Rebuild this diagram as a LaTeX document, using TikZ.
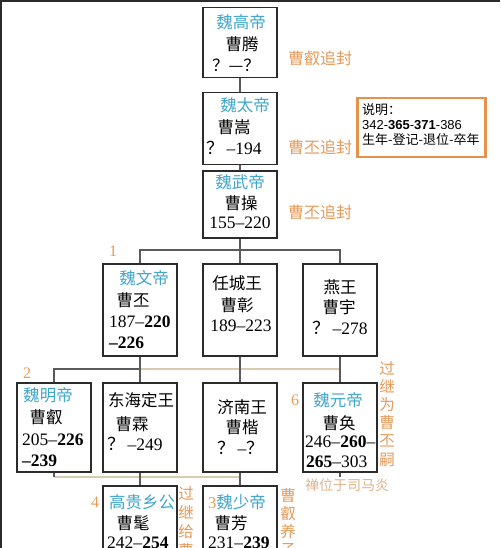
\documentclass[tikz,border=0pt]{standalone}
\usepackage{fontspec}
\setmainfont{Liberation Serif}
\newfontfamily\cjk{Noto Sans CJK SC}
\newfontfamily\lsans{Liberation Sans}
\definecolor{boxc}{HTML}{2B2B2B}
\definecolor{linec}{HTML}{5A5A5A}
\definecolor{beige}{HTML}{D9CBB0}
\definecolor{cyanc}{HTML}{3FA6CB}
\definecolor{orangec}{HTML}{E59A5A}
\definecolor{tanc}{HTML}{DDB48C}
\definecolor{legendc}{HTML}{E8914A}
\tikzset{
  famebox/.style={draw=boxc, line width=1.5pt, minimum width=74pt, inner sep=0pt, anchor=north},
  conn/.style={draw=linec, line width=1.2pt},
  adopt/.style={draw=beige, line width=1.2pt},
  tname/.style={inner sep=0pt, font=\cjk\fontsize{16.5}{18}\selectfont, text=black},
  tcyan/.style={inner sep=0pt, font=\cjk\fontsize{16.5}{18}\selectfont, text=cyanc},
  tnum/.style={inner sep=0pt, font=\fontsize{17.5}{19}\selectfont, text=black},
  tlab/.style={inner sep=0pt, font=\cjk\fontsize{16}{18}\selectfont, text=orangec},
  tidx/.style={inner sep=0pt, font=\fontsize{16}{18}\selectfont, text=orangec},
  tvert/.style={inner sep=0pt, font=\cjk\fontsize{15.5}{18.2}\selectfont, text=orangec, align=center, anchor=north},
  tleg/.style={inner sep=0pt, font=\fontsize{13}{15}\selectfont, text=black, anchor=west},
}
\begin{document}
\begin{tikzpicture}[x=1pt,y=-1pt]
\useasboundingbox (0,0) rectangle (500,548);
\clip (0,0) rectangle (500,548);
\fill[white] (0,0) rectangle (500,548);
\draw[boxc, line width=2.5pt] (1,548) -- (1,1) -- (500,1);

% boxes
\node[famebox, minimum height=70pt] (gao) at (240,7) {};
\node[famebox, minimum height=72pt] (tai) at (240,92) {};
\node[famebox, minimum height=67pt] (wu) at (240,170) {};
\node[famebox, minimum height=92pt] (wen) at (140,263) {};
\node[famebox, minimum height=92pt] (ren) at (240,263) {};
\node[famebox, minimum height=92pt] (yan) at (340,263) {};
\node[famebox, minimum height=89pt] (ming) at (54,382) {};
\node[famebox, minimum height=89pt] (donghai) at (140,382) {};
\node[famebox, minimum height=89pt] (jinan) at (240,382) {};
\node[famebox, minimum height=89pt] (yuan) at (340,382) {};
\node[famebox, minimum height=90pt] (gui) at (140,485) {};
\node[famebox, minimum height=90pt] (shao) at (240,485) {};
\node[draw=legendc, line width=2.5pt, minimum width=128pt, minimum height=59pt, inner sep=0pt, anchor=north west] (legend) at (356,97) {};

% connectors
\coordinate (bus1) at (240,250);
\coordinate (bus2) at (140,369);
\coordinate (bus3) at (54,477);
\draw[conn] (gao.south) -- (tai.north);
\draw[conn] (tai.south) -- (wu.north);
\draw[conn] (wu.south) -- (ren.north);
\draw[conn] (wen.north) -- (wen.north |- bus1) -- (yan.north |- bus1) -- (yan.north);
\draw[adopt] (bus2) -- (yuan.north |- bus2);
\draw[conn] (wen.south) -- (donghai.north);
\draw[conn] (bus2) -- (ming.north |- bus2) -- (ming.north);
\draw[conn] (ren.south) -- (jinan.north);
\draw[conn] (yan.south) -- (yuan.north);
\draw[adopt] (bus3) -- (jinan.south |- bus3);
\draw[conn] (ming.south) -- (bus3);
\draw[conn] (donghai.south) -- (gui.north);
\draw[conn] (jinan.south) -- (shao.north);
\draw[conn] (yuan.south) -- ++(0,4);

% texts row 1
\node[tcyan] (t1a) at (241,22) {魏高帝};
\node[tname] (t1b) at (242,44) {曹腾};
\node[tname] (t1c) at (236,65) {？—？};
\node[tcyan] (t2a) at (245,105) {魏太帝};
\node[tname] (t2b) at (234,127) {曹嵩};
\node[tnum, anchor=west] (t2c) at (206,148) {{\cjk ？}\,--194};
\node[tcyan] (t3a) at (240,182) {魏武帝};
\node[tname] (t3b) at (241,203) {曹操};
\node[tnum] (t3c) at (240,223) {155--220};
\node[tlab] (l1) at (320,58) {曹叡追封};
\node[tlab] (l2) at (320,147) {曹丕追封};
\node[tlab] (l3) at (320,212) {曹丕追封};

% legend
\node[tleg] (lg1) at (362,110) {\cjk 说明：};
\node[tleg] (lg2) at (362,125) {\lsans 342-\textbf{365}-\textbf{371}-386};
\node[tleg] (lg3) at (362,140) {\cjk 生年-登记-退位-卒年};

% row 2
\node[tidx] (n1) at (113,251) {1};
\node[tcyan] (t4a) at (144,278) {魏文帝};
\node[tname] (t4b) at (133,300) {曹丕};
\node[tnum, anchor=west] (t4c) at (109,322) {187--\textbf{220}};
\node[tnum, anchor=west] (t4d) at (109,343) {\textbf{--226}};
\node[tname] (t5a) at (237,283) {任城王};
\node[tname] (t5b) at (237,305) {曹彰};
\node[tnum] (t5c) at (241,326) {189--223};
\node[tname] (t6a) at (340,287) {燕王};
\node[tname] (t6b) at (339,307) {曹宇};
\node[tnum] (t6c) at (340,328) {{\cjk ？}\,--278};

% row 3
\node[tidx] (n2) at (27,373) {2};
\node[tcyan] (t7a) at (48,395) {魏明帝};
\node[tname] (t7b) at (46,417) {曹叡};
\node[tnum, anchor=west] (t7c) at (22,440) {205--\textbf{226}};
\node[tnum, anchor=west] (t7d) at (22,461) {\textbf{--239}};
\node[tname] (t8a) at (141,400) {东海定王};
\node[tname] (t8b) at (132,424) {曹霖};
\node[tnum, anchor=west] (t8c) at (107,444) {{\cjk ？}\,--249};
\node[tname] (t9a) at (242,407) {济南王};
\node[tname] (t9b) at (242,427) {曹楷};
\node[tnum, anchor=west] (t9c) at (217,448) {{\cjk ？}\,--{\cjk ？}};
\node[tidx] (n6) at (295,400) {6};
\node[tcyan] (t10a) at (338,400) {魏元帝};
\node[tname] (t10b) at (339,423) {曹奂};
\node[tnum, anchor=west] (t10c) at (305,442) {246--\textbf{260}--};
\node[tnum, anchor=west] (t10d) at (306,462) {\textbf{265}--303};
\node[tvert] (v1) at (387,361) {过\\继\\为\\曹\\丕\\嗣};
\node[inner sep=0pt, font=\cjk\fontsize{14}{16}\selectfont, text=tanc] (chan) at (347,485) {禅位于司马炎};

% row 4
\node[tidx] (n4) at (95,502) {4};
\node[tcyan] (t11a) at (142,502) {高贵乡公};
\node[tname] (t11b) at (133,523) {曹髦};
\node[tnum, anchor=west] (t11c) at (107,543) {242--\textbf{254}};
\node[tcyan, anchor=west] (t12a) at (208,502) {{\color{orangec}\rmfamily 3}魏少帝};
\node[tname] (t12b) at (231,523) {曹芳};
\node[tnum, anchor=west] (t12c) at (208,543) {231--\textbf{239}};
\node[tvert, font=\cjk\fontsize{15.5}{19}\selectfont] (v2) at (186,486) {过\\继\\给\\曹};
\node[tvert] (v3) at (288,488) {曹\\叡\\养\\子};
\end{tikzpicture}
\end{document}
